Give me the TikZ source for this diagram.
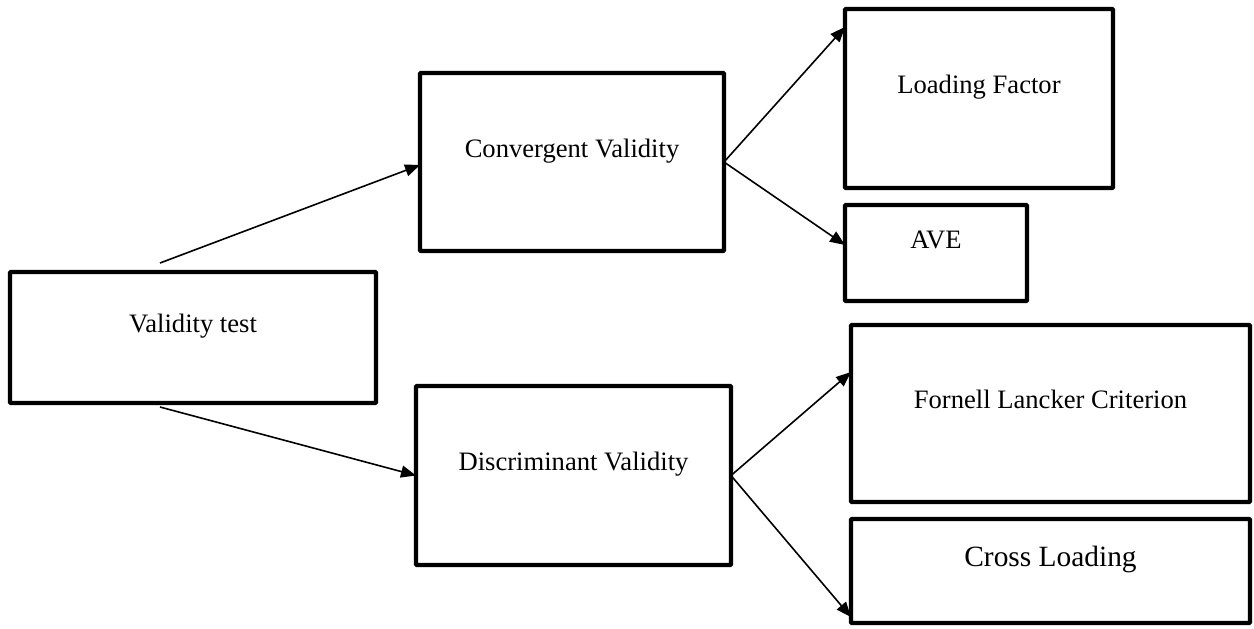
\documentclass[tikz,border=0pt]{standalone}
\usepackage{fontspec}
\setmainfont{Liberation Serif}
\usetikzlibrary{arrows.meta}
\begin{document}
\begin{tikzpicture}[x=0.5pt,y=-0.5pt,
		box/.style={draw=black,line width=2.2pt,rounded corners=0.5pt,inner sep=0pt,outer sep=0pt,
			text height=9pt,text depth=14pt,font=\fontsize{13.3}{16}\selectfont},
		link/.style={black,line width=0.8pt,-{Triangle[length=7.5pt,width=6pt]}}]
		\useasboundingbox (0,0) rectangle (1254,628);
		\node [box,minimum width=183pt,minimum height=65.5pt] (vt) at (193,337.5) {Validity test};
		\node [box,minimum width=152pt,minimum height=89pt] (cv) at (572,162) {Convergent Validity};
		\node [box,minimum width=157.5pt,minimum height=89.5pt] (dv) at (573.5,475.5) {Discriminant Validity};
		\node [box,minimum width=134pt,minimum height=89.5pt] (lf) at (979,98.5) {Loading Factor};
		\node [box,minimum width=91pt,minimum height=48pt] (ave) at (936,253) {AVE};
		\node [box,minimum width=199.5pt,minimum height=88.5pt] (fl) at (1050.5,413.5) {Fornell Lancker Criterion};
		\node [box,minimum width=199.5pt,minimum height=52pt,text height=10pt,text depth=15pt,
			font=\fontsize{14.7}{18}\selectfont] (cl) at (1050.5,571) {Cross Loading};
		\coordinate (vtu) at (160,263);
		\coordinate (vtd) at (160,407);
		\draw [link] (vtu) -- ([yshift=-1.5pt]cv.west);
		\draw [link] (vtd) -- (dv.west);
		\draw [link] (cv.east) -- ([yshift=-9pt]lf.north west);
		\draw [link] (cv.east) -- ([yshift=4pt]ave.west);
		\draw [link] (dv.east) -- ([yshift=-23.5pt]fl.north west);
		\draw [link] (dv.east) -- ([yshift=3pt]cl.south west);
\end{tikzpicture}
\end{document}
